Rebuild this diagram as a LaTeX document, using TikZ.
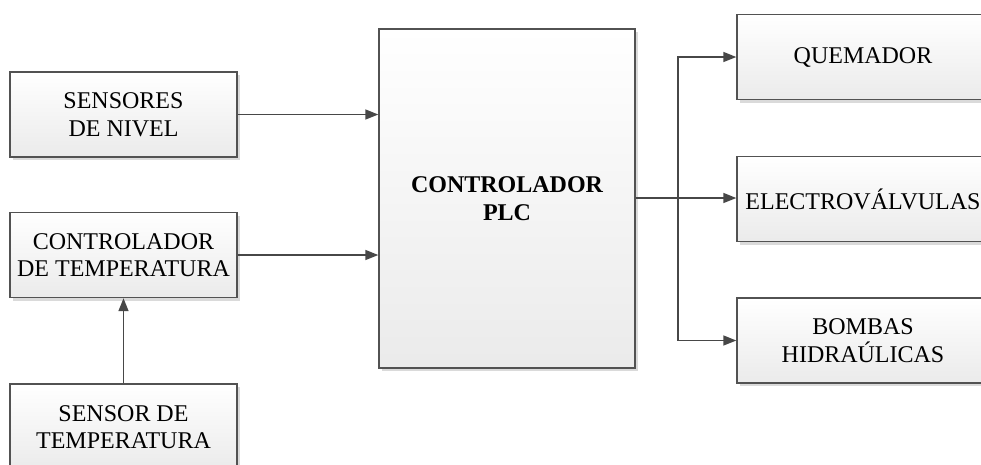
\documentclass[tikz,border=0pt]{standalone}
\usepackage{fontspec}
\setmainfont{Liberation Serif}
\usetikzlibrary{arrows.meta,shadows}
\begin{document}
\begin{tikzpicture}[x=1pt,y=-1pt,
  blk/.style={draw=black!68, line width=1.4pt, inner sep=0pt, align=center,
    top color=white, bottom color=black!8,
    drop shadow={shadow xshift=2.5pt, shadow yshift=-3pt, fill=black!18, opacity=0.8},
    font=\fontsize{24}{27.5}\selectfont},
  conn/.style={draw=black!72, line width=1.4pt},
  arr/.style={conn, -{Triangle[length=13pt,width=10pt]}}]
\useasboundingbox (0,0) rectangle (981,464);

% input side
\node[blk, minimum width=227pt, minimum height=85pt] (sn) at (123.5,114.5) {SENSORES\\DE NIVEL};
\node[blk, minimum width=227pt, minimum height=85pt] (ct) at (123.5,255) {CONTROLADOR\\DE TEMPERATURA};
\node[blk, minimum width=227pt, minimum height=86pt] (st) at (123.5,427) {SENSOR DE\\TEMPERATURA};

% controller
\node[blk, minimum width=256pt, minimum height=339pt, font=\fontsize{24}{27.5}\selectfont\bfseries] (plc) at (507,198.5) {CONTROLADOR\\PLC};

% outputs
\node[blk, minimum width=252pt, minimum height=85pt] (qm) at (863,57) {QUEMADOR};
\node[blk, minimum width=252pt, minimum height=85pt] (ev) at (863,199) {ELECTROVÁLVULAS};
\node[blk, minimum width=252pt, minimum height=85pt] (bh) at (863,340.5) {BOMBAS\\HIDRAÚLICAS};

% connectors
\draw[arr] (sn.east) -- (sn.east -| plc.west);
\draw[arr] (ct.east) -- (ct.east -| plc.west);
\draw[arr] (st.north) -- (ct.south);

\coordinate (j) at (678,198);
\draw[conn] (plc.east |- j) -- (j);
\draw[arr] (j) |- (qm.west);
\draw[arr] (j) -- (j -| ev.west);
\draw[arr] (j) |- (bh.west);
\end{tikzpicture}
\end{document}
